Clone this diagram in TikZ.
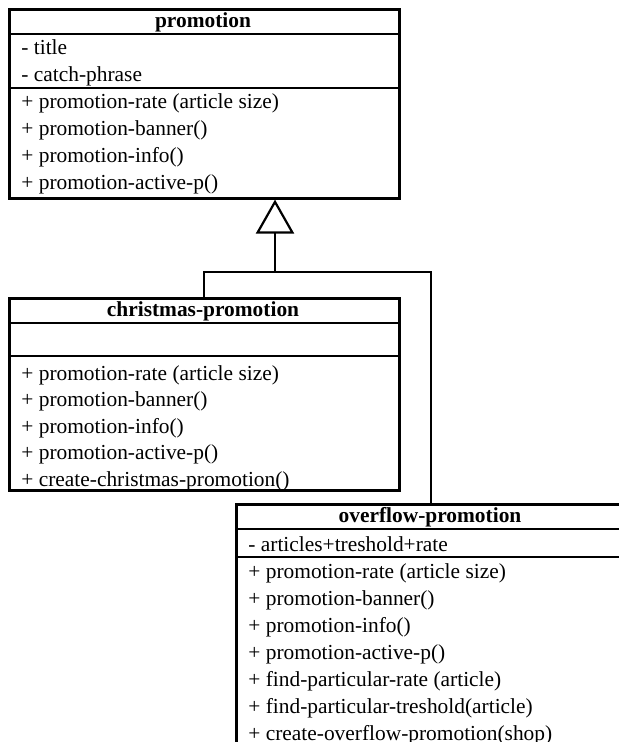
\documentclass[tikz,border=0pt]{standalone}
\usepackage{fontspec}
\setmainfont{Liberation Serif}
\usetikzlibrary{arrows.meta}
\usetikzlibrary{positioning}

\tikzset{
  classbox/.style={draw, line width=1.3pt, anchor=north west, inner sep=0pt, minimum width=195pt},
  classname/.style={font=\fontsize{10.7}{12}\selectfont\bfseries, anchor=base, inner sep=0pt},
  member/.style={font=\fontsize{10.7}{12}\selectfont, anchor=base west, inner sep=0pt},
  sep/.style={line width=1.1pt},
  link/.style={line width=1.1pt},
}

\begin{document}
\begin{tikzpicture}[x=0.5pt, y=-0.5pt]
    \useasboundingbox (0, 0) rectangle (619, 742);
    \clip (0, 0) rectangle (619, 742);

    % promotion
    \node [classbox, minimum height=94.5pt] (promo) at (8, 8) {};
    \draw [sep] ([yshift=-13pt]promo.north west) -- ([yshift=-13pt]promo.north east);
    \draw [sep] ([yshift=-40pt]promo.north west) -- ([yshift=-40pt]promo.north east);
    \node [classname] (promo-name) at (203, 28) {promotion};
    \node [member] (promo-a1) at (21, 55) {- title};
    \node [member] (promo-a2) at (21, 82) {- catch-phrase};
    \foreach \i/\txt in {1/+ promotion-rate (article size), 2/+ promotion-banner(), 3/+ promotion-info(), 4/+ promotion-active-p()}
      \node [member] (promo-m\i) at (21, 82 + 27*\i) {\txt};

    % christmas-promotion
    \node [classbox, minimum height=96pt] (xmas) at (8, 297) {};
    \draw [sep] ([yshift=-13pt]xmas.north west) -- ([yshift=-13pt]xmas.north east);
    \draw [sep] ([yshift=-29.5pt]xmas.north west) -- ([yshift=-29.5pt]xmas.north east);
    \node [classname] (xmas-name) at (203, 317) {christmas-promotion};
    \foreach \i/\txt in {1/+ promotion-rate (article size), 2/+ promotion-banner(), 3/+ promotion-info(), 4/+ promotion-active-p(), 5/+ create-christmas-promotion()}
      \node [member] (xmas-m\i) at (21, 353.5 + 26.5*\i) {\txt};

    % overflow-promotion
    \node [classbox, minimum height=130pt] (over) at (235, 503) {};
    \draw [sep] ([yshift=-13pt]over.north west) -- ([yshift=-13pt]over.north east);
    \draw [sep] ([yshift=-27pt]over.north west) -- ([yshift=-27pt]over.north east);
    \node [classname] (over-name) at (430, 522) {overflow-promotion};
    \node [member] (over-a1) at (248, 551) {- articles+treshold+rate};
    \foreach \i/\txt in {1/+ promotion-rate (article size), 2/+ promotion-banner(), 3/+ promotion-info(), 4/+ promotion-active-p(), 5/+ find-particular-rate (article), 6/+ find-particular-treshold(article), 7/+ create-overflow-promotion(shop)}
      \node [member] (over-m\i) at (248, 551 + 27*\i) {\txt};

    % inheritance
    \coordinate (fork) at (275, 272);
    \draw [link] (xmas.north) |- (fork) -| (over.north);
    \draw [link, -{Triangle[open, length=17pt, width=19pt]}] (fork) -- (fork |- promo.south);
  \end{tikzpicture}
\end{document}
